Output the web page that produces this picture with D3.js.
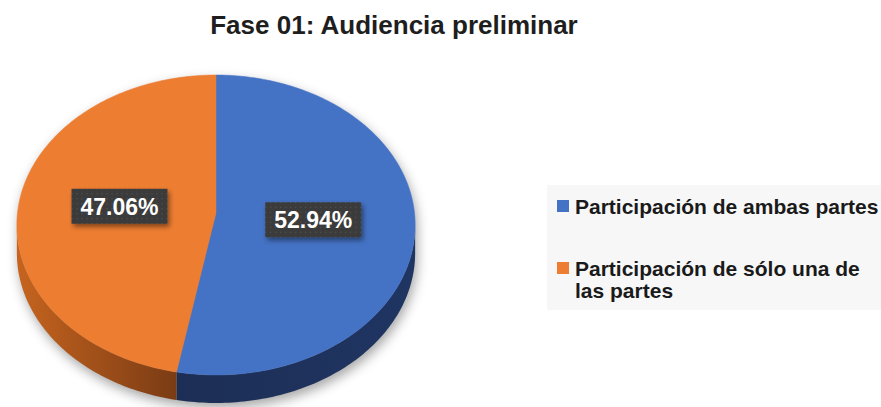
<!DOCTYPE html>
<html>
<head>
<meta charset="utf-8">
<script src="https://cdnjs.cloudflare.com/ajax/libs/d3/7.8.5/d3.min.js"></script>
<style>
  html, body { margin: 0; padding: 0; background: #ffffff; }
  svg { display: block; font-family: "Liberation Sans", Arial, sans-serif; }
</style>
</head>
<body>
<svg id="chart" width="881" height="407"></svg>
<script>
const title = "Fase 01: Audiencia preliminar";
const categories = ["Participación de ambas partes", "Participación de sólo una de las partes"];
const values = [52.94, 47.06];
const valueLabels = ["52.94%", "47.06%"];
const legendLines = [["Participación de ambas partes"], ["Participación de sólo una de", "las partes"]];
const topColors = ["#4472C4", "#ED7D31"];

const svg = d3.select("#chart");
const defs = svg.append("defs");

// geometry of the 3D pie (perspective projection of a tilted disc)
const cx = 216, cy = 213, A = 198.5, B = 149, k = 0.08, depth = 28;
function proj(theta, f = 1, dy = 0) {
  const u = f * Math.sin(theta), v = -f * Math.cos(theta);
  const w = 1 - k * v;
  return [cx + A * u / w, cy + B * v / w + dy];
}
const line = d3.line();
const step = Math.PI / 180;
function arcPoints(a0, a1, dy = 0) {
  const n = Math.max(2, Math.ceil((a1 - a0) / step));
  return d3.range(n + 1).map(i => proj(a0 + (a1 - a0) * i / n, 1, dy));
}

const arcs = d3.pie().sort(null).value(d => d)(values);

// filters / gradients / patterns
const blur = defs.append("filter").attr("id", "shadowBlur").attr("x", "-20%").attr("y", "-20%").attr("width", "140%").attr("height", "140%");
blur.append("feGaussianBlur").attr("stdDeviation", 6);

const ds = defs.append("filter").attr("id", "labelShadow").attr("x", "-30%").attr("y", "-40%").attr("width", "160%").attr("height", "190%");
ds.append("feDropShadow").attr("dx", 2).attr("dy", 3).attr("stdDeviation", 2.5).attr("flood-color", "#000").attr("flood-opacity", 0.45);

const pat = defs.append("pattern").attr("id", "dots").attr("width", 5).attr("height", 5).attr("patternUnits", "userSpaceOnUse");
pat.append("rect").attr("width", 5).attr("height", 5).attr("fill", "#3b3b3b");
pat.append("rect").attr("x", 2).attr("y", 2).attr("width", 1).attr("height", 1).attr("fill", "#5a5a5a");

const gBlue = defs.append("linearGradient").attr("id", "sideBlue").attr("gradientUnits", "userSpaceOnUse")
  .attr("x1", 176).attr("y1", 0).attr("x2", 415).attr("y2", 0);
gBlue.append("stop").attr("offset", 0).attr("stop-color", "#1c2e55");
gBlue.append("stop").attr("offset", 1).attr("stop-color", "#1f3562");

const gOr = defs.append("linearGradient").attr("id", "sideOrange").attr("gradientUnits", "userSpaceOnUse")
  .attr("x1", 17).attr("y1", 0).attr("x2", 177).attr("y2", 0);
gOr.append("stop").attr("offset", 0).attr("stop-color", "#c6641f");
gOr.append("stop").attr("offset", 1).attr("stop-color", "#7a3b14");
const sideFills = ["url(#sideBlue)", "url(#sideOrange)"];

// legend background
svg.append("rect").attr("x", 547).attr("y", 185).attr("width", 334).attr("height", 125).attr("fill", "#f7f7f7");

// title
svg.append("text").attr("x", 394).attr("y", 34).attr("text-anchor", "middle")
  .attr("font-size", 26).attr("font-weight", "bold").attr("fill", "#1e1e1e").text(title);

// shadow
const thetaL = Math.acos(-k), thetaR = 2 * Math.PI - thetaL;
const shadowPts = arcPoints(thetaR - 2 * Math.PI, thetaL).concat(arcPoints(thetaL, thetaR, depth));
svg.append("path").attr("d", line(shadowPts) + "Z").attr("fill", "#808080").attr("opacity", 0.7)
  .attr("transform", "translate(2,5)").attr("filter", "url(#shadowBlur)");

// sides
arcs.forEach((a, i) => {
  const s = Math.max(a.startAngle, thetaL), e = Math.min(a.endAngle, thetaR);
  if (e <= s) return;
  const pts = arcPoints(s, e).concat(arcPoints(s, e, depth).reverse());
  svg.append("path").attr("d", line(pts) + "Z").attr("fill", sideFills[i]);
});

// top faces
arcs.forEach((a, i) => {
  const pts = [proj(0, 0)].concat(arcPoints(a.startAngle, a.endAngle));
  svg.append("path").attr("d", line(pts) + "Z").attr("fill", topColors[i])
    .attr("stroke", topColors[i]).attr("stroke-width", 0.5);
});

// data labels
arcs.forEach((a, i) => {
  const mid = (a.startAngle + a.endAngle) / 2;
  const [lx, ly] = proj(mid, 0.49);
  const g = svg.append("g").attr("transform", `translate(${lx},${ly})`);
  g.append("rect").attr("x", -48).attr("y", -17.5).attr("width", 96).attr("height", 35)
    .attr("fill", "url(#dots)").attr("filter", "url(#labelShadow)");
  g.append("text").attr("text-anchor", "middle").attr("y", 8.5)
    .attr("font-size", 23).attr("font-weight", "bold").attr("fill", "#ffffff").text(valueLabels[i]);
});

// legend
const legendY = [200, 262];
categories.forEach((c, i) => {
  svg.append("rect").attr("x", 557).attr("y", legendY[i]).attr("width", 12).attr("height", 12).attr("fill", topColors[i]);
  const t = svg.append("text").attr("x", 575).attr("y", legendY[i] + 14)
    .attr("font-size", 21).attr("font-weight", "bold").attr("fill", "#1a1a1a");
  legendLines[i].forEach((ln, j) => {
    t.append("tspan").attr("x", 575).attr("dy", j === 0 ? 0 : 22).text(ln);
  });
});
</script>
</body>
</html>
